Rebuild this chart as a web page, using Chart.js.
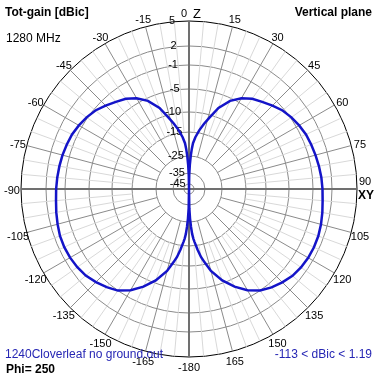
<!DOCTYPE html>
<html>
<head>
<meta charset="utf-8">
<script src="https://cdn.jsdelivr.net/npm/chart.js@4.4.1/dist/chart.umd.min.js"></script>
<style>
  html, body { margin: 0; padding: 0; background: #fff; }
  #wrap { position: relative; width: 377px; height: 377px; font-family: Arial, "Liberation Sans", sans-serif; }
  #c { position: absolute; left: 0; top: 0; }
  .t { position: absolute; font-size: 12px; line-height: 14px; white-space: nowrap; color: #000; }
  .b { font-weight: bold; }
  .blue { color: #2626b4; }
</style>
</head>
<body>
<div id="wrap">
  <canvas id="c" width="377" height="377"></canvas>
  <div class="t b" style="left:5px;top:5px">Tot-gain [dBic]</div>
  <div class="t b" style="right:5px;top:5px">Vertical plane</div>
  <div class="t" style="left:6px;top:31px">1280 MHz</div>
  <div class="t blue" style="left:5px;top:347px">1240Cloverleaf no ground.out</div>
  <div class="t blue" style="right:5px;top:347px">-113 &lt; dBic &lt; 1.19</div>
  <div class="t b" style="left:6px;top:362px">Phi= 250</div>
</div>
<script>
// rings of the ARRL-like gain scale (dBic) and their labels
const ringDb = [-45, -35, -25, -15, -10, -5, -1, 2, 5];
const ringLabels = ['-45', '-35', '-25', '-15', '-10', '-5', '-1', '2', '5'];
const floorDb = -113;

// elevation angle from Z (deg) and total gain (dBic)
const thetas = [0, 1, 2, 3, 4, 5, 7, 10, 13, 16, 20, 25, 30, 35, 40, 45, 50, 55, 60, 65, 70, 75, 80, 85, 90,
  95, 100, 105, 110, 115, 120, 125, 130, 135, 140, 145, 150, 155, 160, 165, 168, 170, 172, 174, 175, 176, 177, 178, 179, 180];
const gainRight = [-113, -37, -30, -25, -22, -19.6, -17, -14.3, -12.5, -10.7, -8, -5.6, -4.2, -3.3, -2.7, -2, -1.3, -0.85, -0.5, -0.2, -0.05, 0.1, 0.25, 0.4, 0.5,
  0.6, 0.8, 1.0, 1.15, 1.19, 1.15, 1.0, 0.75, 0.25, -0.3, -1.0, -2.2, -3.7, -5.6, -8.3, -10.5, -12, -14, -16.5, -18, -20, -23, -27, -33, -113];
const gainLeft = [-113, -37, -30, -25, -22, -19.6, -17, -14.3, -12.5, -10.7, -8, -5.6, -4.2, -3.3, -2.7, -2, -1.3, -0.85, -0.5, -0.2, -0.05, 0.1, 0.2, 0.3, 0.4,
  0.5, 0.7, 0.9, 1.1, 1.15, 1.1, 0.95, 0.7, 0.2, -0.35, -1.0, -2.2, -3.7, -5.6, -8.3, -10.5, -12, -14, -16.5, -18, -20, -23, -27, -33, -113];

// one category per degree, clockwise from Z
const angleDeg = Array.from({ length: 360 }, (_, i) => i);

// radius of each ring as a share of the outer ring (log-like scale)
const ringShare = [5, 16, 33, 57, 77, 100, 124, 143, 168].map(v => v / 168);

function toShare(db) {
  if (db <= ringDb[0]) return Math.max(0, ringShare[0] * (db - floorDb) / (ringDb[0] - floorDb));
  for (let k = 1; k < ringDb.length; k++) {
    if (db <= ringDb[k]) {
      const t = (db - ringDb[k - 1]) / (ringDb[k] - ringDb[k - 1]);
      return ringShare[k - 1] + t * (ringShare[k] - ringShare[k - 1]);
    }
  }
  return 1;
}

const trace = angleDeg.map(() => null);
thetas.forEach((th, k) => {
  trace[th % 360] = toShare(gainRight[k]);
  if (th > 0 && th < 180) trace[360 - th] = toShare(gainLeft[k]);
});

// spokes that fade out inside a given ring
const gradCache = {};
function spoke(scale, fromDb, color) {
  const key = [fromDb, color, scale.xCenter, scale.yCenter, scale.drawingArea].join('|');
  if (!gradCache[key]) {
    const g = scale.ctx.createRadialGradient(scale.xCenter, scale.yCenter, 0, scale.xCenter, scale.yCenter, scale.drawingArea);
    const s = toShare(fromDb);
    g.addColorStop(0, 'rgba(255,255,255,0)');
    g.addColorStop(s - 0.004, 'rgba(255,255,255,0)');
    g.addColorStop(s, color);
    g.addColorStop(1, color);
    gradCache[key] = g;
  }
  return gradCache[key];
}

function angleText(deg) {
  if (deg === 180) return '-180';
  return String(deg > 180 ? deg - 360 : deg);
}

const polarText = {
  id: 'polarText',
  beforeDatasetsDraw(chart) {
    const s = chart.scales.r, ctx = chart.ctx;
    ctx.save();
    ctx.fillStyle = '#000';
    ctx.textBaseline = 'middle';
    ctx.font = '11px Arial, "Liberation Sans", sans-serif';
    ctx.textAlign = 'right';
    ringDb.forEach((db, k) => {
      const d = s.getDistanceFromCenterForValue(toShare(db));
      ctx.fillText(ringLabels[k], s.xCenter - 3 - d * 0.065, s.yCenter - d);
    });
    for (let deg = 0; deg < 360; deg += 15) {
      const p = s.getPointPosition(deg, s.drawingArea + 9);
      const y = p.y + 2;
      if (deg === 0) {
        ctx.textAlign = 'right';
        ctx.font = '11px Arial, "Liberation Sans", sans-serif';
        ctx.fillText('0', p.x - 2, y);
        ctx.textAlign = 'left';
        ctx.font = '13px Arial, "Liberation Sans", sans-serif';
        ctx.fillText('Z', p.x + 4, y);
      } else if (deg === 90) {
        ctx.textAlign = 'center';
        ctx.font = '11px Arial, "Liberation Sans", sans-serif';
        ctx.fillText('90', p.x - 1, p.y - 7);
        ctx.font = 'bold 12px Arial, "Liberation Sans", sans-serif';
        ctx.fillText('XY', p.x, p.y + 7);
      } else {
        ctx.textAlign = 'center';
        ctx.font = '11px Arial, "Liberation Sans", sans-serif';
        ctx.fillText(angleText(deg), p.x, y);
      }
    }
    ctx.restore();
  }
};

new Chart(document.getElementById('c'), {
  type: 'radar',
  data: {
    labels: angleDeg,
    datasets: [{
      data: trace,
      spanGaps: true,
      borderColor: '#1414c8',
      borderWidth: 2.5,
      pointRadius: 0,
      fill: false,
      tension: 0,
    }],
  },
  options: {
    responsive: false,
    animation: false,
    events: [],
    layout: { padding: { left: 21, right: 20, top: 21, bottom: 20 } },
    plugins: { legend: { display: false }, tooltip: { enabled: false } },
    scales: {
      r: {
        min: 0, max: 1,
        startAngle: 0,
        ticks: { display: false },
        pointLabels: { display: false },
        afterBuildTicks: (sc) => { sc.ticks = [0, ...ringDb.map(toShare)].map((v) => ({ value: v })); },
        grid: {
          circular: true,
          color: (c) => (c.index === ringDb.length ? '#000' : '#8a8a8a'),
          lineWidth: 1,
        },
        angleLines: {
          color: (c) => {
            const i = c.index;
            if (i % 90 === 0) return '#707070';
            if (i % 15 === 0) return spoke(c.scale, -25, '#8a8a8a');
            if (i % 5 === 0) return spoke(c.scale, -15, '#d8d8d8');
            return 'rgba(0,0,0,0)';
          },
          lineWidth: (c) => (c.index % 90 === 0 ? 2 : (c.index % 5 === 0 ? 1 : 0)),
        },
      },
    },
  },
  plugins: [polarText],
});
</script>
</body>
</html>
